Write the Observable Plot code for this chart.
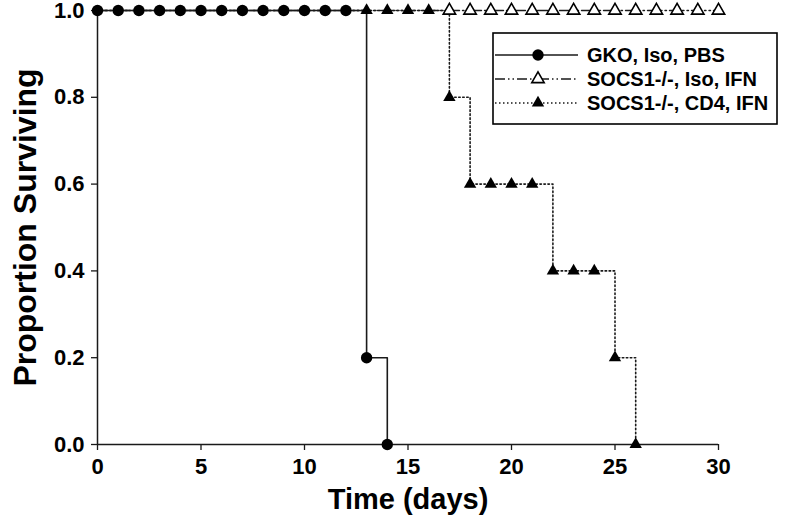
<!DOCTYPE html>
<html>
<head>
<meta charset="utf-8">
<script src="https://cdn.jsdelivr.net/npm/d3@7"></script>
<script src="https://cdn.jsdelivr.net/npm/@observablehq/plot@0.6"></script>
<style>
  html, body { margin: 0; padding: 0; background: white; }
  #chart svg { display: block; }
</style>
</head>
<body>
<div id="chart"></div>
<script>
// ---- Data ----
const seriesNames = ["GKO, Iso, PBS", "SOCS1-/-, Iso, IFN", "SOCS1-/-, CD4, IFN"];

// GKO, Iso, PBS (filled circles, solid line)
const gkoDays = [0,1,2,3,4,5,6,7,8,9,10,11,12,13,14];
const gkoSurv = [1,1,1,1,1,1,1,1,1,1,1,1,1,0.2,0];

// SOCS1-/-, Iso, IFN (open triangles, dash-dot-dot line)
const isoLineDays = [0,30];
const isoLineSurv = [1,1];
const isoMarkDays = [17,18,19,20,21,22,23,24,25,26,27,28,29,30];
const isoMarkSurv = [1,1,1,1,1,1,1,1,1,1,1,1,1,1];

// SOCS1-/-, CD4, IFN (filled triangles, dotted line)
const cd4LineDays = [0,17,18,22,25,26];
const cd4LineSurv = [1,0.8,0.6,0.4,0.2,0];
const cd4MarkDays = [13,14,15,16,17,18,19,20,21,22,23,24,25,26];
const cd4MarkSurv = [1,1,1,1,0.8,0.6,0.6,0.6,0.6,0.4,0.4,0.4,0.2,0];

const xTicks = [0,5,10,15,20,25,30];
const yTicks = [0,0.2,0.4,0.6,0.8,1.0];

const toPts = (xs, ys) => xs.map((x, i) => ({x, y: ys[i]}));
const gko = toPts(gkoDays, gkoSurv);
const isoLine = toPts(isoLineDays, isoLineSurv);
const isoMarks = toPts(isoMarkDays, isoMarkSurv);
const cd4Line = toPts(cd4LineDays, cd4LineSurv);
const cd4Marks = toPts(cd4MarkDays, cd4MarkSurv);

// ---- Styles ----
const ink = "#1a1a1a";
const dashDotDot = "10,3,1.5,3,1.5,3";
const dotted = "1.5,2.5";
const circleR = 5.7;
const triR = 4.6;
const fontFam = "'Liberation Sans', Arial, sans-serif";

const chart = Plot.plot({
  width: 786,
  height: 525,
  marginLeft: 97,
  marginRight: 68,
  marginTop: 10,
  marginBottom: 81,
  x: {domain: [0, 30]},
  y: {domain: [0, 1]},
  style: {fontFamily: fontFam, fontWeight: "bold", fontSize: "22px", color: "black", background: "white"},
  marks: [
    Plot.axisX({ticks: xTicks, tickSize: 6, tickPadding: 8, fontSize: 22, tickFormat: d => String(d), label: null, stroke: ink, strokeWidth: 1.3}),
    Plot.axisY({ticks: yTicks, tickSize: 6, tickPadding: 7, fontSize: 22, tickFormat: d3.format(".1f"), label: null, stroke: ink, strokeWidth: 1.3}),
    Plot.ruleX([0], {stroke: ink, strokeWidth: 1.5}),
    Plot.ruleY([0], {stroke: ink, strokeWidth: 1.5}),
    Plot.text(["Time (days)"], {frameAnchor: "bottom", textAnchor: "middle", dy: 64, fontSize: 29, fontWeight: "bold", fill: "black"}),
    Plot.text(["Proportion Surviving"], {frameAnchor: "left", textAnchor: "middle", dx: -72, rotate: -90, fontSize: 32, fontWeight: "bold", fill: "black"}),
    // lines
    Plot.line(isoLine, {x: "x", y: "y", curve: "step-after", stroke: ink, strokeWidth: 1.4, strokeDasharray: dashDotDot}),
    Plot.line(cd4Line, {x: "x", y: "y", curve: "step-after", stroke: ink, strokeWidth: 1.6, strokeDasharray: dotted}),
    Plot.line(gko, {x: "x", y: "y", curve: "step-after", stroke: ink, strokeWidth: 1.6}),
    // markers
    Plot.dot(isoMarks, {x: "x", y: "y", symbol: "triangle", r: triR, fill: "white", stroke: "black", strokeWidth: 1.6}),
    Plot.dot(gko, {x: "x", y: "y", symbol: "circle", r: circleR, fill: "black", stroke: "none"}),
    Plot.dot(cd4Marks, {x: "x", y: "y", symbol: "triangle", r: triR, fill: "black", stroke: "none"})
  ]
});

const svg = d3.select(chart);

// ---- Legend (inside plot area, top right) ----
const lg = svg.append("g").attr("font-family", fontFam).attr("font-weight", "bold").attr("text-anchor", "start");
lg.append("rect").attr("x", 493).attr("y", 33).attr("width", 284).attr("height", 91)
  .attr("fill", "white").attr("stroke", "black").attr("stroke-width", 1.6);
const legendItems = [
  {name: seriesNames[0], dash: null, sym: d3.symbolCircle, r: circleR, fill: "black", stroke: "none"},
  {name: seriesNames[1], dash: dashDotDot, sym: d3.symbolTriangle, r: triR, fill: "white", stroke: "black"},
  {name: seriesNames[2], dash: dotted, sym: d3.symbolTriangle, r: triR, fill: "black", stroke: "none"}
];
legendItems.forEach((it, i) => {
  const y = 55 + i * 24;
  lg.append("line").attr("x1", 495).attr("x2", 578).attr("y1", y).attr("y2", y)
    .attr("stroke", ink).attr("stroke-width", 1.5).attr("stroke-dasharray", it.dash);
  lg.append("path").attr("d", d3.symbol(it.sym, Math.PI * it.r * it.r)())
    .attr("transform", `translate(538,${y})`)
    .attr("fill", it.fill).attr("stroke", it.stroke).attr("stroke-width", 1.6);
  lg.append("text").attr("x", 587).attr("y", y).attr("dy", "0.36em")
    .attr("text-anchor", "start").attr("font-size", 20).attr("fill", "black").text(it.name);
});

document.getElementById("chart").appendChild(chart);
</script>
</body>
</html>
